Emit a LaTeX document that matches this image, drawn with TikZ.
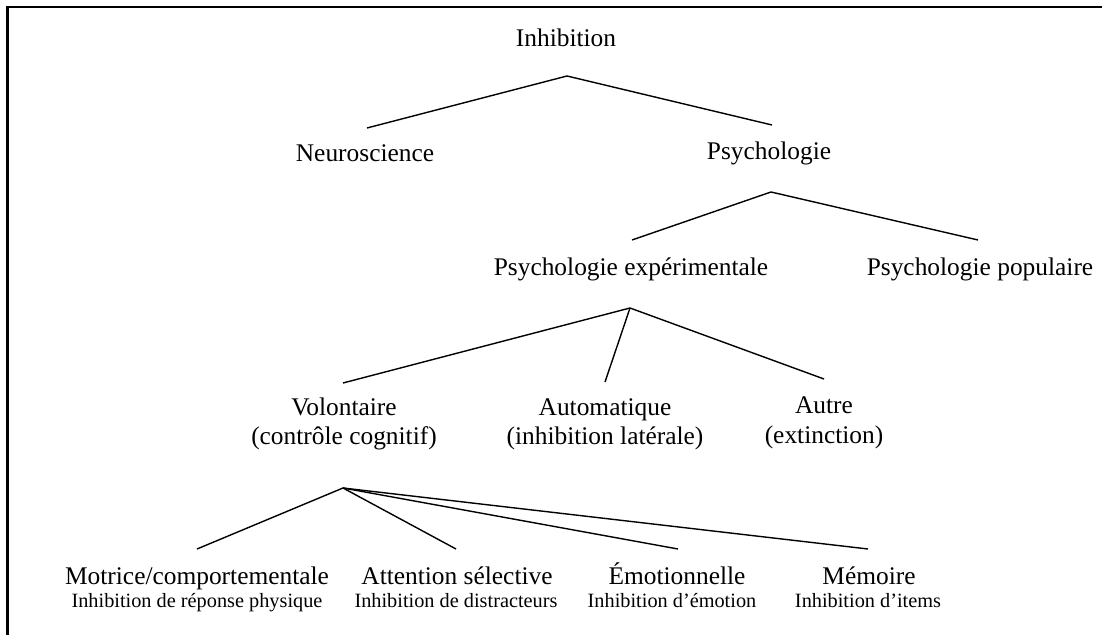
\documentclass[tikz,border=0pt]{standalone}
\usepackage{fontspec}
\setmainfont{Liberation Serif}
\begin{document}
\begin{tikzpicture}[x=0.5pt,y=-0.5pt,
  big/.style={font=\fontsize{12.7}{15}\selectfont, inner sep=0pt, anchor=base},
  small/.style={font=\fontsize{10.15}{12}\selectfont, inner sep=0pt, anchor=base},
  link/.style={line width=0.7pt},
  frame/.style={line width=1.1pt}]
\useasboundingbox (0,0) rectangle (1102,635);
\draw[frame] (7.5,635) -- (7.5,7) -- (1102,7);
% text nodes
\node[big] (inh) at (566,47) {Inhibition};
\node[big] (neu) at (365,162) {Neuroscience};
\node[big] (psy) at (769,160) {Psychologie};
\node[big] (pexp) at (631,276) {Psychologie expérimentale};
\node[big] (ppop) at (980,276) {Psychologie populaire};
\node[big] (vol) at (344,416) {Volontaire};
\node[big] (vols) at (344,445) {(contrôle cognitif)};
\node[big] (aut) at (605,416) {Automatique};
\node[big] (auts) at (605,445) {(inhibition latérale)};
\node[big] (autre) at (824,414) {Autre};
\node[big] (autres) at (824,444) {(extinction)};
\node[big] (mot) at (197,584) {Motrice/comportementale};
\node[small] (mots) at (197,607) {Inhibition de réponse physique};
\node[big] (att) at (457,584) {Attention sélective};
\node[small] (atts) at (456,607) {Inhibition de distracteurs};
\node[big] (emo) at (677,584) {Émotionnelle};
\node[small] (emos) at (672,607) {Inhibition d’émotion};
\node[big] (mem) at (869,584) {Mémoire};
\node[small] (mems) at (868,607) {Inhibition d’items};
% hubs and ends
\coordinate (inhHub) at (567,76);
\coordinate (neuEnd) at (367,128);
\coordinate (psyEnd) at (772,125);
\coordinate (psyHub) at (771,192);
\coordinate (pexpEnd) at (632,240);
\coordinate (ppopEnd) at (978,240);
\coordinate (pexpHub) at (630,308);
\coordinate (volEnd) at (343,383);
\coordinate (autEnd) at (605,382);
\coordinate (autreEnd) at (824,379);
\coordinate (volHub) at (343,488);
\coordinate (motEnd) at (197,549);
\coordinate (attEnd) at (456,549);
\coordinate (emoEnd) at (678,549);
\coordinate (memEnd) at (868,549);
% connectors
\draw[link] (neuEnd) -- (inhHub) -- (psyEnd);
\draw[link] (pexpEnd) -- (psyHub) -- (ppopEnd);
\draw[link] (volEnd) -- (pexpHub) -- (autreEnd);
\draw[link] (pexpHub) -- (autEnd);
\draw[link] (motEnd) -- (volHub) -- (attEnd);
\draw[link] (volHub) -- (emoEnd);
\draw[link] (volHub) -- (memEnd);
\end{tikzpicture}
\end{document}
